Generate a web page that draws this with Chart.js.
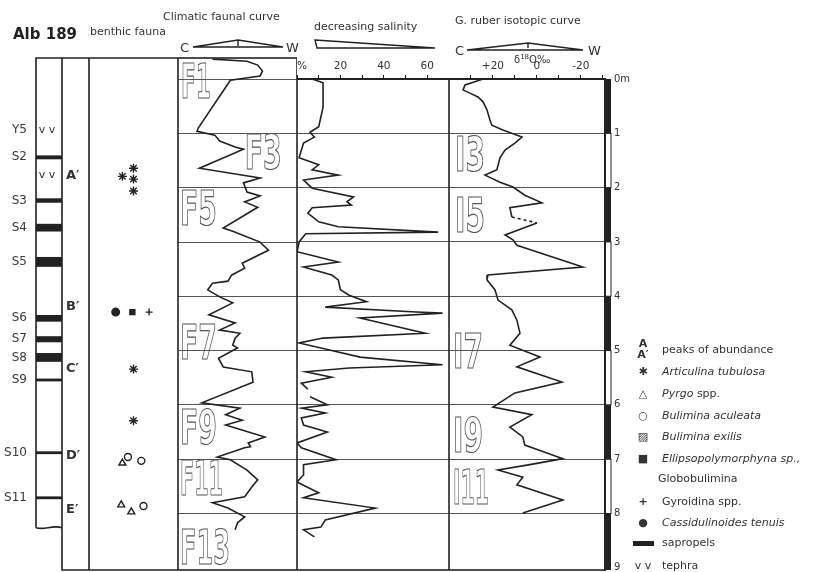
<!DOCTYPE html>
<html>
<head>
<meta charset="utf-8">
<script src="https://cdn.jsdelivr.net/npm/chart.js@4.4.1/dist/chart.umd.min.js"></script>
<style>
  html, body { margin: 0; padding: 0; background: #fff; }
  #fig { position: relative; width: 821px; height: 572px; overflow: hidden;
         font-family: "DejaVu Sans", sans-serif; color: #333; }
  #fig canvas { position: absolute; top: 0; }
  .t { position: absolute; white-space: nowrap; line-height: 1; font-size: 11px; }
  .big { font-size: 13px; }
  .row { position: absolute; left: 632px; height: 14px; line-height: 14px; font-size: 11px; white-space: nowrap; }
  .row .sym { position: absolute; left: 0; width: 22px; text-align: center; }
  .row .lab { position: absolute; left: 30px; }
  sup { font-size: 7px; }
</style>
</head>
<body>
<div id="fig">
  <canvas id="coreChart" width="178" height="572" style="left:0px"></canvas>
  <canvas id="climChart" width="119" height="572" style="left:178px"></canvas>
  <canvas id="salChart" width="152" height="572" style="left:297px"></canvas>
  <canvas id="isoChart" width="186" height="572" style="left:449px"></canvas>

  <div class="t" style="left:13px;top:27px;font-size:15px;font-weight:bold;color:#222">Alb 189</div>
  <div class="t" style="left:90px;top:26px">benthic fauna</div>
  <div class="t" style="left:163px;top:11px">Climatic faunal curve</div>
  <div class="t big" style="left:180px;top:41px">C</div>
  <div class="t big" style="left:286px;top:41px">W</div>
  <div class="t" style="left:314px;top:21px">decreasing salinity</div>
  <div class="t" style="left:455px;top:15px">G. ruber isotopic curve</div>
  <div class="t big" style="left:455px;top:44px">C</div>
  <div class="t big" style="left:588px;top:44px">W</div>
  <div class="t" style="left:514px;top:54px;font-size:10px">δ<sup>18</sup>O‰</div>

  <div class="row" style="top:338px;height:24px;line-height:11px"><span class="sym" style="font-weight:bold">A<br>A′</span><span class="lab" style="top:6px">peaks of abundance</span></div>
  <div class="row" style="top:365px"><span class="sym">✱</span><span class="lab"><i>Articulina tubulosa</i></span></div>
  <div class="row" style="top:387px"><span class="sym">△</span><span class="lab"><i>Pyrgo</i> spp.</span></div>
  <div class="row" style="top:409px"><span class="sym">○</span><span class="lab"><i>Bulimina aculeata</i></span></div>
  <div class="row" style="top:430px"><span class="sym">▨</span><span class="lab"><i>Bulimina exilis</i></span></div>
  <div class="row" style="top:452px"><span class="sym">■</span><span class="lab"><i>Ellipsopolymorphyna sp.,</i></span></div>
  <div class="row" style="top:472px"><span class="lab" style="left:26px">Globobulimina</span></div>
  <div class="row" style="top:495px"><span class="sym" style="font-weight:bold">+</span><span class="lab">Gyroidina spp.</span></div>
  <div class="row" style="top:516px"><span class="sym">●</span><span class="lab"><i>Cassidulinoides tenuis</i></span></div>
  <div class="row" style="top:536px"><span class="sym"><span style="display:inline-block;width:21px;height:5px;background:#222;vertical-align:middle"></span></span><span class="lab">sapropels</span></div>
  <div class="row" style="top:559px"><span class="sym">v v</span><span class="lab">tephra</span></div>
</div>

<script>
// ---- core log ----
const tephraNames = ["Y5"];
const tephraDepths = [0.94, 1.77];
const sapropelNames = ["S2", "S3", "S4", "S5", "S6", "S7", "S8", "S9", "S10", "S11"];
const sapropelTop  = [1.41, 2.20, 2.67, 3.28, 4.35, 4.74, 5.05, 5.52, 6.86, 7.69];
const sapropelBase = [1.47, 2.27, 2.80, 3.45, 4.46, 4.84, 5.20, 5.56, 6.90, 7.73];
const coreBase = 8.26;

// ---- benthic fauna (slot = place in the row, depth in m) ----
const peakLetters = ["A′", "B′", "C′", "D′", "E′"];
const peakDepths = [1.77, 4.19, 5.33, 6.93, 7.93];
const articulinaSlot = [3.0, 4.0, 4.0, 4.0, 4.0, 4.0];
const articulinaDepth = [1.79, 1.64, 1.84, 2.06, 5.34, 6.29];
const pyrgoSlot = [3.0, 2.9, 3.8];
const pyrgoDepth = [7.07, 7.84, 7.97];
const aculeataSlot = [3.5, 4.7, 4.9];
const aculeataDepth = [6.96, 7.03, 7.86];
const ellipsoSlot = [3.9];
const ellipsoDepth = [4.29];
const gyroidinaSlot = [5.4];
const gyroidinaDepth = [4.29];
const cassidSlot = [2.4];
const cassidDepth = [4.29];

// ---- climatic faunal curve (0 = cold, 100 = warm) ----
const climDepth = [-0.37,-0.33,-0.26,-0.15,-0.06,0.02,0.90,0.96,1.03,1.14,1.25,1.29,1.64,1.82,1.91,2.08,2.15,2.26,2.36,2.74,2.80,3.00,3.15,3.39,3.48,3.61,3.72,3.76,3.88,4.01,4.12,4.34,4.49,4.62,4.68,4.77,4.90,4.95,5.14,5.30,5.39,5.58,5.96,6.06,6.18,6.28,6.37,6.59,6.70,6.77,6.79,6.96,7.01,7.20,7.38,7.51,7.69,7.80,7.90,8.06,8.17,8.30];
const climIndex = [29,58,67,71,69,44,17,16,31,35,48,55,18,69,55,58,69,56,67,38,46,69,76,54,56,45,42,29,25,35,46,26,48,35,52,48,46,50,34,38,62,63,20,52,40,54,40,73,59,61,56,33,44,58,67,62,56,29,42,56,50,48];
const climStages = ["F1", "F3", "F5", "F7", "F9", "F11", "F13"];
const climStageDepth = [0.02, 1.33, 2.37, 4.83, 6.40, 7.34, 8.61];
const climStageX = [2.5, 56, 1.7, 1.7, 1.7, 1.7, 1.7];

// ---- decreasing salinity (%) ----
const salDepth = [0.00,0.07,0.52,0.88,0.98,1.07,1.18,1.31,1.45,1.58,1.67,1.77,1.86,2.01,2.17,2.26,2.32,2.37,2.47,2.63,2.72,2.82,2.85,3.00,3.18,3.37,3.46,3.61,3.70,3.88,3.98,4.10,4.20,4.29,4.31,4.40,4.68,4.77,4.86,4.99,5.12,5.26,5.32,5.39,5.49,5.60,5.71,5.78,5.85,6.00,6.06,6.15,6.24,6.37,6.50,6.70,6.79,7.01,7.10,7.29,7.42,7.62,7.71,7.90,8.12,8.25,8.30,8.43];
const salPct = [7,12,12,10,6,8,3,2,1,10,7,19,3,7,26,23,25,7,5,10,19,65,4,1,0,19,3,16,19,20,24,32,13,55,67,29,59,12,1,15,29,67,24,4,16,2,5,null,6,14,2,13,2,3,14,0,2,18,3,3,0,10,3,36,13,11,3,8];
const salTicks = [0, 10, 20, 30, 40, 50, 60, 70];
const salTickLabels = ["%", "", "20", "", "40", "", "60", ""];

// ---- G. ruber isotopic curve ----
const isoDepth = [0.00,0.11,0.20,0.26,0.33,0.42,0.57,0.75,0.85,0.94,1.07,1.18,1.31,1.45,1.67,1.77,1.90,1.99,2.14,2.28,2.37,2.54,2.65,2.87,2.96,3.06,3.46,3.61,3.70,3.88,4.07,4.25,4.44,4.68,4.90,5.12,5.30,5.58,5.78,6.04,6.18,6.41,6.59,6.74,6.87,6.99,7.10,7.20,7.33,7.47,7.75,7.99];
const isoDelta = [24.5,32.7,33.6,30.5,26.8,24.5,22.7,21.4,20.5,15.5,6.8,10,14.5,16.8,18.2,23.6,16.8,10.9,5.5,-2.3,12.3,11.4,0,14.5,10.9,9.1,-20.9,22.3,22.7,19.1,17.7,11.4,9.1,7.7,12.3,-1.4,9.1,-11.4,10,20,2.3,12.3,6.4,5.5,-3.6,-11.8,3.2,17.7,6.4,9.1,-11.8,6.4];
const isoDashFrom = 21;
const isoTicks = [30, 20, 10, 0, -10, -20, -30];
const isoTickLabels = ["", "+20", "", "0", "", "-20", ""];
const isoStages = ["I3", "I5", "I7", "I9", "I11"];
const isoStageDepth = [1.37, 2.50, 5.00, 6.55, 7.50];
const isoStageX = [37.3, 37.3, 38.2, 38.2, 38.2];

// ---- depth scale ----
const depthTicks = [0, 1, 2, 3, 4, 5, 6, 7, 8, 9];
const depthLabels = ["0m", "1", "2", "3", "4", "5", "6", "7", "8", "9"];

const INK = "#222";
const GRID = "#555";
Chart.defaults.font.family = '"DejaVu Sans", sans-serif';
Chart.defaults.font.size = 11;
Chart.defaults.color = "#333";
Chart.defaults.animation = false;
Chart.defaults.plugins.legend.display = false;
Chart.defaults.plugins.tooltip.enabled = false;

// fix axis size, drop label overflow paddings
function pin(size) {
  return s => {
    if (size !== undefined) {
      if (s.isHorizontal()) s.height = size; else s.width = size;
    }
    s.paddingTop = s.paddingBottom = s.paddingLeft = s.paddingRight = 0;
  };
}
function fixTicks(values) {
  return s => { s.ticks = values.map(v => ({ value: v })); };
}
const innerGrid = c => (c.tick && c.tick.value > 0 && c.tick.value < 9) ? GRID : "rgba(0,0,0,0)";

const frame = {
  id: "frame",
  afterDraw(chart) {
    const { ctx, chartArea: a } = chart;
    ctx.save();
    ctx.strokeStyle = INK;
    ctx.lineWidth = 1.6;
    ctx.strokeRect(a.left, a.top, a.right - a.left, a.bottom - a.top);
    ctx.restore();
  }
};

function stageLabels(names, depths, xs) {
  return {
    id: "stages",
    afterDatasetsDraw(chart) {
      const { ctx, scales } = chart;
      ctx.save();
      ctx.font = 'bold 48px "DejaVu Sans"';
      ctx.strokeStyle = "#555";
      ctx.lineWidth = 1.2;
      ctx.lineJoin = "round";
      ctx.textBaseline = "alphabetic";
      names.forEach((n, i) => {
        const px = scales.x.getPixelForValue(xs[i]);
        const py = scales.y.getPixelForValue(depths[i]) + 17.5;
        let w = 0;
        for (const c of n) w += /[1I]/.test(c) ? 10 : 17;
        w += 3 * (n.length - 1);
        ctx.strokeText(n, px, py, w);
      });
      ctx.restore();
    }
  };
}

function wedge(pts, mark) {
  return {
    id: "wedge",
    afterDraw(chart) {
      const ctx = chart.ctx;
      ctx.save();
      ctx.strokeStyle = INK;
      ctx.lineWidth = 1.4;
      ctx.beginPath();
      pts.forEach((p, i) => i ? ctx.lineTo(p[0], p[1]) : ctx.moveTo(p[0], p[1]));
      ctx.closePath();
      if (mark) { ctx.moveTo(mark[0], mark[1]); ctx.lineTo(mark[2], mark[3]); }
      ctx.stroke();
      ctx.restore();
    }
  };
}

const depthBar = {
  id: "depthBar",
  afterDraw(chart) {
    const { ctx, chartArea: a, scales: { y } } = chart;
    ctx.save();
    for (let i = 0; i < depthTicks.length - 1; i++) {
      const y0 = y.getPixelForValue(depthTicks[i]);
      const y1 = i === depthTicks.length - 2 ? a.bottom : y.getPixelForValue(depthTicks[i + 1]);
      if (i % 2 === 0) {
        ctx.fillStyle = INK;
        ctx.fillRect(a.right, y0, 6, y1 - y0);
      } else {
        ctx.strokeStyle = INK;
        ctx.lineWidth = 1;
        ctx.strokeRect(a.right + 0.5, y0, 5.5, y1 - y0);
      }
    }
    ctx.restore();
  }
};

// ====================
// CORE LOG + FAUNA
// ====================
const coreFrame = {
  id: "coreFrame",
  afterDraw(chart) {
    const { ctx, chartArea: a, scales } = chart;
    const xc = scales.xCore, xt = scales.xTag, y = scales.y;
    const yb = y.getPixelForValue(coreBase);
    ctx.save();
    ctx.strokeStyle = INK;
    ctx.lineWidth = 1.6;
    ctx.beginPath();
    ctx.moveTo(a.left, yb); ctx.lineTo(a.left, a.top); ctx.lineTo(a.right, a.top);
    ctx.moveTo(xc.right, a.top); ctx.lineTo(xc.right, a.bottom); ctx.lineTo(a.right, a.bottom);
    ctx.moveTo(xt.right, a.top); ctx.lineTo(xt.right, a.bottom);
    ctx.moveTo(a.right, a.top); ctx.lineTo(a.right, a.bottom);
    ctx.moveTo(a.left, yb);
    ctx.bezierCurveTo(a.left + 8, yb + 3, a.left + 16, yb - 3, xc.right, yb);
    ctx.stroke();

    ctx.fillStyle = "#333";
    ctx.textBaseline = "middle";
    ctx.font = '11px "DejaVu Sans"';
    ctx.textAlign = "center";
    tephraDepths.forEach(d => ctx.fillText("v v", xc.getPixelForValue(0) - 2, y.getPixelForValue(d)));
    ctx.font = 'bold 13px "DejaVu Sans"';
    ctx.textAlign = "left";
    peakLetters.forEach((l, i) => ctx.fillText(l, xt.getPixelForValue(0.15), y.getPixelForValue(peakDepths[i])));
    ctx.restore();
  }
};

function fauna(slots, depths, style, filled, r) {
  return {
    type: "scatter", xAxisID: "xFauna", yAxisID: "y",
    data: slots.map((s, i) => ({ x: s, y: depths[i] })),
    pointStyle: style, pointRadius: r,
    pointBorderColor: INK, pointBorderWidth: 1.4,
    pointBackgroundColor: filled ? INK : "rgba(0,0,0,0)"
  };
}

const coreTicks = [tephraDepths[0]].concat(sapropelTop.map((t, i) => (t + sapropelBase[i]) / 2));
const coreTickNames = tephraNames.concat(sapropelNames);
const hidden = { ticks: { display: false }, grid: { display: false }, border: { display: false } };

new Chart(document.getElementById("coreChart"), {
  type: "scatter",
  data: {
    labels: ["core"],
    datasets: [
      {
        type: "bar", xAxisID: "xCore", yAxisID: "y",
        data: sapropelTop.map((t, i) => ({ x: "core", y: [t, sapropelBase[i]] })),
        backgroundColor: INK, borderWidth: 0, grouped: false,
        barPercentage: 1, categoryPercentage: 1
      },
      fauna(articulinaSlot, articulinaDepth, "star", false, 4.5),
      fauna(pyrgoSlot, pyrgoDepth, "triangle", false, 4),
      fauna(aculeataSlot, aculeataDepth, "circle", false, 3.5),
      fauna(ellipsoSlot, ellipsoDepth, "rect", true, 3.5),
      fauna(gyroidinaSlot, gyroidinaDepth, "cross", false, 3.5),
      fauna(cassidSlot, cassidDepth, "circle", true, 3.8)
    ]
  },
  options: {
    responsive: false,
    layout: { padding: { top: 58, bottom: 2, left: 0, right: 0 }, autoPadding: false },
    scales: {
      xCore: { type: "category", labels: ["core"], offset: true, position: "bottom", stack: "cols", stackWeight: 26, afterFit: pin(0), ...hidden },
      xTag: { type: "linear", min: 0, max: 1, offset: false, position: "bottom", stack: "cols", stackWeight: 27, afterFit: pin(0), ...hidden },
      xFauna: { type: "linear", min: 0, max: 8, offset: false, position: "bottom", stack: "cols", stackWeight: 89, afterFit: pin(0), ...hidden },
      y: {
        type: "linear", position: "left", reverse: true, min: -0.39, max: 9.04,
        afterBuildTicks: fixTicks(coreTicks), afterFit: pin(36),
        ticks: { autoSkip: false, padding: 9, font: { size: 12 }, color: "#3a3a3a", callback: (v, i) => coreTickNames[i] },
        grid: { display: false, drawTicks: false }, border: { display: false }
      }
    }
  },
  plugins: [coreFrame]
});

// ====================
// CLIMATIC FAUNAL CURVE
// ====================
new Chart(document.getElementById("climChart"), {
  type: "scatter",
  data: {
    datasets: [{
      data: climDepth.map((d, i) => ({ x: climIndex[i], y: d })),
      showLine: true, borderColor: INK, borderWidth: 1.6, pointRadius: 0
    }]
  },
  options: {
    responsive: false,
    layout: { padding: { top: 58, bottom: 2, left: 0, right: 0 }, autoPadding: false },
    scales: {
      x: { type: "linear", min: 0, max: 100, display: false },
      y: {
        type: "linear", position: "left", reverse: true, min: -0.39, max: 9.04,
        afterBuildTicks: fixTicks(depthTicks.slice(0, 9)), afterFit: pin(0),
        ticks: { display: false },
        grid: { color: GRID, lineWidth: 1, drawTicks: false }, border: { display: false }
      }
    }
  },
  plugins: [frame, stageLabels(climStages, climStageDepth, climStageX),
            wedge([[15, 47], [60, 40], [105, 47]], [60, 40, 60, 46])]
});

// ====================
// DECREASING SALINITY
// ====================
new Chart(document.getElementById("salChart"), {
  type: "scatter",
  data: {
    datasets: [{
      data: salDepth.map((d, i) => ({ x: salPct[i], y: d })),
      showLine: true, spanGaps: false, borderColor: INK, borderWidth: 1.6, pointRadius: 0
    }]
  },
  options: {
    responsive: false,
    layout: { padding: { top: 59, bottom: 2, left: 0, right: 0 }, autoPadding: false },
    scales: {
      x: {
        type: "linear", position: "top", min: 0, max: 70,
        afterBuildTicks: fixTicks(salTicks), afterFit: pin(20),
        ticks: { autoSkip: false, align: "inner", minRotation: 0, maxRotation: 0, padding: 2, font: { size: 10.5 }, callback: (v, i) => salTickLabels[i] },
        grid: { drawOnChartArea: false, tickLength: 4, color: INK }, border: { color: INK, width: 2 }
      },
      y: {
        type: "linear", position: "left", reverse: true, min: 0, max: 9.04,
        afterBuildTicks: fixTicks(depthTicks), afterFit: pin(0),
        ticks: { display: false },
        grid: { color: innerGrid, lineWidth: 1, drawTicks: false }, border: { display: false }
      }
    }
  },
  plugins: [frame, wedge([[18, 40], [138, 48], [20, 48]])]
});

// ====================
// G. RUBER ISOTOPIC CURVE
// ====================
new Chart(document.getElementById("isoChart"), {
  type: "scatter",
  data: {
    datasets: [{
      data: isoDepth.map((d, i) => ({ x: isoDelta[i], y: d })),
      showLine: true, borderColor: INK, borderWidth: 1.6, pointRadius: 0,
      segment: { borderDash: c => c.p0DataIndex === isoDashFrom ? [3, 3] : undefined }
    }]
  },
  options: {
    responsive: false,
    layout: { padding: { top: 59, bottom: 2, left: 0, right: 0 }, autoPadding: false },
    scales: {
      x: {
        type: "linear", position: "top", reverse: true, min: -31, max: 40,
        afterBuildTicks: fixTicks(isoTicks), afterFit: pin(20),
        ticks: { autoSkip: false, minRotation: 0, maxRotation: 0, padding: 2, font: { size: 10.5 }, callback: (v, i) => isoTickLabels[i] },
        grid: { drawOnChartArea: false, tickLength: 4, color: INK }, border: { color: INK, width: 2 }
      },
      y: {
        type: "linear", position: "right", reverse: true, min: 0, max: 9.04,
        afterBuildTicks: fixTicks(depthTicks), afterFit: pin(30),
        ticks: { autoSkip: false, padding: 9, font: { size: 10 }, callback: (v, i) => depthLabels[i] },
        grid: { color: innerGrid, lineWidth: 1, drawTicks: false }, border: { color: INK, width: 1.6 }
      }
    }
  },
  plugins: [frame, depthBar, stageLabels(isoStages, isoStageDepth, isoStageX),
            wedge([[18, 50], [79, 43], [134, 50]], [79, 43, 79, 48])]
});
</script>
</body>
</html>
